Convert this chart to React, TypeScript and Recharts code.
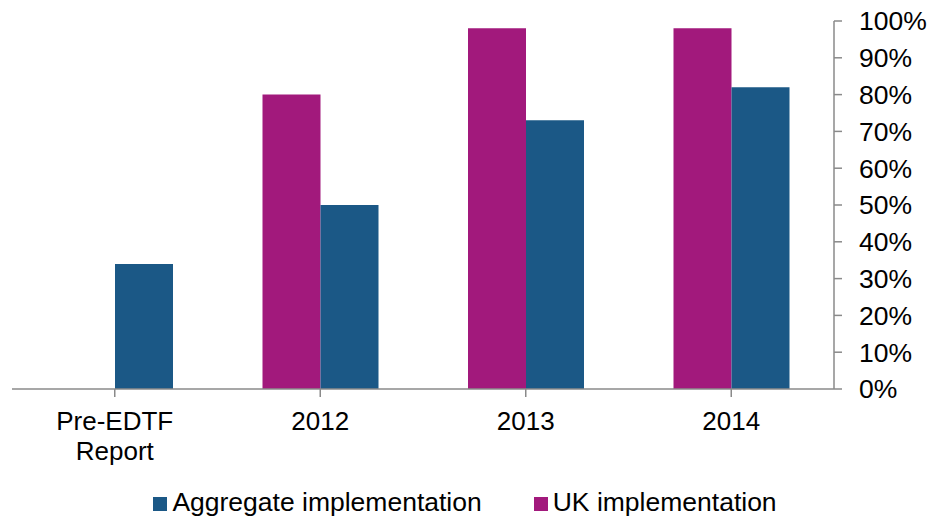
import React from "react";
import { BarChart, Bar, XAxis, YAxis, Legend } from "recharts";

const categories: string[] = ["Pre-EDTF\nReport", "2012", "2013", "2014"];
const ukImplementation: (number | null)[] = [null, 0.8, 0.98, 0.98];
const aggregateImplementation: number[] = [0.34, 0.5, 0.73, 0.82];
const yTicks: number[] = [0, 0.1, 0.2, 0.3, 0.4, 0.5, 0.6, 0.7, 0.8, 0.9, 1.0];

const UK_COLOR = "#A2197C";
const AGG_COLOR = "#1B5886";
const AXIS_COLOR = "#8A8A8A";
const FONT = "'Liberation Sans', Arial, sans-serif";

const data = categories.map((c, i) => ({
  name: c,
  uk: ukImplementation[i],
  agg: aggregateImplementation[i],
}));

const XTick = (props: any) => {
  const { x, y, payload } = props;
  const lines: string[] = String(payload.value).split("\n");
  return (
    <text
      x={x}
      y={y}
      textAnchor="middle"
      fill="#000"
      fontSize={26}
      fontFamily={FONT}
    >
      {lines.map((l, i) => (
        <tspan key={i} x={x} dy={i === 0 ? 31 : 30}>
          {l}
        </tspan>
      ))}
    </text>
  );
};

const LegendContent = () => {
  const items = [
    { label: "Aggregate implementation", color: AGG_COLOR },
    { label: "UK implementation", color: UK_COLOR },
  ];
  return (
    <div
      style={{
        display: "flex",
        justifyContent: "center",
        alignItems: "center",
        height: 40,
        fontFamily: FONT,
        fontSize: 26.5,
        color: "#000",
        gap: 52,
      }}
    >
      {items.map((it) => (
        <div key={it.label} style={{ display: "flex", alignItems: "center" }}>
          <span
            style={{
              display: "inline-block",
              width: 14,
              height: 14,
              background: it.color,
              marginRight: 5,
              marginTop: 4,
            }}
          />
          <span>{it.label}</span>
        </div>
      ))}
    </div>
  );
};

export default function App() {
  return (
    <div style={{ position: "absolute", left: 0, top: 0, width: 930, height: 524, background: "#fff" }}>
      <BarChart
        width={930}
        height={524}
        data={data}
        margin={{ top: 21, right: 0, left: 12, bottom: 2 }}
        barGap={0}
        barSize={58}
      >
        <XAxis
          dataKey="name"
          height={93}
          axisLine={{ stroke: AXIS_COLOR, strokeWidth: 1.5 }}
          tickLine={{ stroke: AXIS_COLOR, strokeWidth: 1.5 }}
          tickSize={8}
          tick={<XTick />}
          interval={0}
          padding={{ left: 0, right: 0 }}
        />
        <YAxis
          orientation="right"
          width={96}
          domain={[0, 1]}
          ticks={yTicks}
          interval={0}
          tickFormatter={(v: number) => `${Math.round(v * 100)}%`}
          axisLine={{ stroke: AXIS_COLOR, strokeWidth: 1.5 }}
          tickLine={{ stroke: AXIS_COLOR, strokeWidth: 1.5 }}
          tickSize={8}
          tickMargin={17}
          tick={{ fill: "#000", fontSize: 26.5, fontFamily: FONT }}
        />
        <Legend
          verticalAlign="bottom"
          content={<LegendContent />}
          wrapperStyle={{ height: 40, left: 0, width: 930 }}
        />
        <Bar dataKey="uk" name="UK implementation" fill={UK_COLOR} isAnimationActive={false} />
        <Bar dataKey="agg" name="Aggregate implementation" fill={AGG_COLOR} isAnimationActive={false} />
      </BarChart>
    </div>
  );
}
